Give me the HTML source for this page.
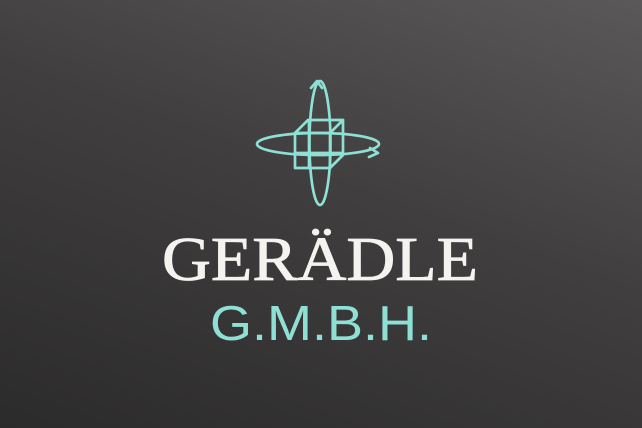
<!DOCTYPE html>
<html><head><meta charset="utf-8"><style>
html,body{margin:0;padding:0;width:642px;height:428px;overflow:hidden}
body{background:linear-gradient(200deg,#5a5858 0%,#403e3e 45%,#2c2b2b 100%)}
svg{display:block}
</style></head><body>
<svg width="642" height="428">
<g fill="none" stroke="#8fe0d4" stroke-width="2.7" stroke-linejoin="round" stroke-linecap="round">
<ellipse cx="320" cy="143" rx="10.5" ry="62"/>
<ellipse cx="318" cy="144" rx="61" ry="11"/>
<path d="M311 88 L317 81 L322 88"/>
<path d="M370 148 L378 153 L369 157"/>
<g>
<rect x="295" y="133" width="35" height="35"/>
<path d="M295 133 L308 120 L343 120 L343 155 L330 168 M330 133 L343 120"/>
<path d="M309 120 L309 168 M295 153 L343 153"/>
</g>
</g>
<text x="320" y="280" text-anchor="middle" font-family="Liberation Serif, serif" font-size="62" fill="#f5f3ef" stroke="#f5f3ef" stroke-width="0.8" textLength="316" lengthAdjust="spacingAndGlyphs">GERÄDLE</text>
<text x="321" y="340" text-anchor="middle" font-family="Liberation Sans, sans-serif" font-size="49" fill="#8fe0d4" textLength="222" lengthAdjust="spacingAndGlyphs">G.M.B.H.</text>
</svg>
</body></html>
